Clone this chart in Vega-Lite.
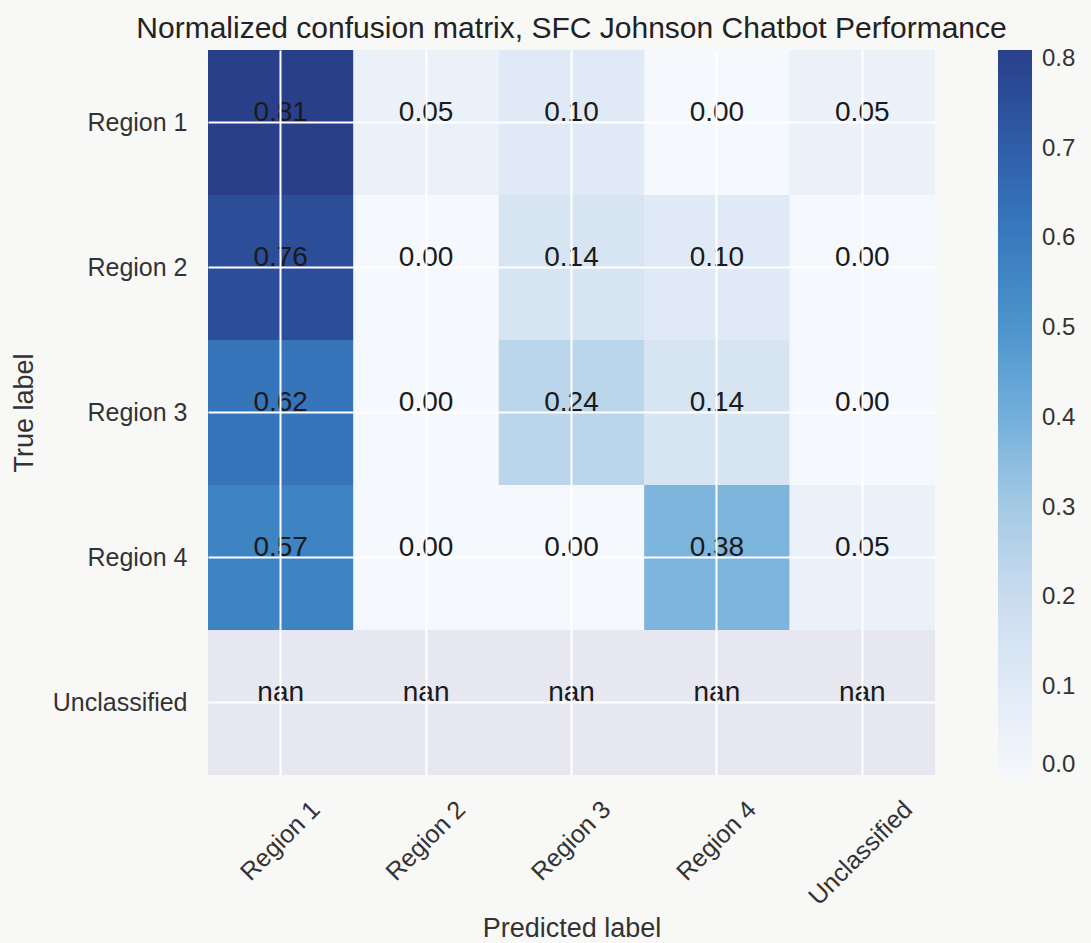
{
  "$schema": "https://vega.github.io/schema/vega-lite/v6.json",
  "width": 727,
  "height": 725,
  "autosize": {"type": "none"},
  "padding": {"left": 208, "top": 50, "right": 156, "bottom": 168},
  "background": "#f8f8f6",
  "view": {"fill": "#e7e7f1", "stroke": null},
  "title": {
    "text": "Normalized confusion matrix, SFC Johnson Chatbot Performance",
    "font": "Liberation Sans",
    "fontSize": 30,
    "fontWeight": "normal",
    "color": "#222222",
    "anchor": "middle",
    "baseline": "alphabetic",
    "offset": 12,
    "dy": 30
  },
  "data": {
    "values": [
      {"true": "Region 1", "pred": "Region 1", "value": 0.81, "label": "0.81"},
      {"true": "Region 1", "pred": "Region 2", "value": 0.05, "label": "0.05"},
      {"true": "Region 1", "pred": "Region 3", "value": 0.10, "label": "0.10"},
      {"true": "Region 1", "pred": "Region 4", "value": 0.00, "label": "0.00"},
      {"true": "Region 1", "pred": "Unclassified", "value": 0.05, "label": "0.05"},
      {"true": "Region 2", "pred": "Region 1", "value": 0.76, "label": "0.76"},
      {"true": "Region 2", "pred": "Region 2", "value": 0.00, "label": "0.00"},
      {"true": "Region 2", "pred": "Region 3", "value": 0.14, "label": "0.14"},
      {"true": "Region 2", "pred": "Region 4", "value": 0.10, "label": "0.10"},
      {"true": "Region 2", "pred": "Unclassified", "value": 0.00, "label": "0.00"},
      {"true": "Region 3", "pred": "Region 1", "value": 0.62, "label": "0.62"},
      {"true": "Region 3", "pred": "Region 2", "value": 0.00, "label": "0.00"},
      {"true": "Region 3", "pred": "Region 3", "value": 0.24, "label": "0.24"},
      {"true": "Region 3", "pred": "Region 4", "value": 0.14, "label": "0.14"},
      {"true": "Region 3", "pred": "Unclassified", "value": 0.00, "label": "0.00"},
      {"true": "Region 4", "pred": "Region 1", "value": 0.57, "label": "0.57"},
      {"true": "Region 4", "pred": "Region 2", "value": 0.00, "label": "0.00"},
      {"true": "Region 4", "pred": "Region 3", "value": 0.00, "label": "0.00"},
      {"true": "Region 4", "pred": "Region 4", "value": 0.38, "label": "0.38"},
      {"true": "Region 4", "pred": "Unclassified", "value": 0.05, "label": "0.05"},
      {"true": "Unclassified", "pred": "Region 1", "value": null, "label": "nan"},
      {"true": "Unclassified", "pred": "Region 2", "value": null, "label": "nan"},
      {"true": "Unclassified", "pred": "Region 3", "value": null, "label": "nan"},
      {"true": "Unclassified", "pred": "Region 4", "value": null, "label": "nan"},
      {"true": "Unclassified", "pred": "Unclassified", "value": null, "label": "nan"}
    ]
  },
  "encoding": {
    "x": {
      "field": "pred",
      "type": "nominal",
      "sort": ["Region 1", "Region 2", "Region 3", "Region 4", "Unclassified"],
      "scale": {"paddingInner": 0, "paddingOuter": 0},
      "axis": {
        "title": "Predicted label",
        "titleFont": "Liberation Sans",
        "titleFontSize": 27,
        "titleFontWeight": "normal",
        "titleColor": "#333333",
        "titlePadding": 6,
        "labelFont": "Liberation Sans",
        "labelFontSize": 25,
        "labelColor": "#333333",
        "labelAngle": -45,
        "labelAlign": "right",
        "labelBaseline": "middle",
        "labelPadding": 30,
        "labelOffset": {"condition": {"test": "datum.value === 'Unclassified'", "value": 46}, "value": 35},
        "ticks": false,
        "tickSize": 0,
        "domain": false,
        "grid": true,
        "gridColor": "#ffffff",
        "gridWidth": 2,
        "gridOpacity": 1,
        "tickBand": "center",
        "zindex": 1
      }
    },
    "y": {
      "field": "true",
      "type": "nominal",
      "sort": ["Region 1", "Region 2", "Region 3", "Region 4", "Unclassified"],
      "scale": {"paddingInner": 0, "paddingOuter": 0},
      "axis": {
        "title": "True label",
        "titleFont": "Liberation Sans",
        "titleFontSize": 27,
        "titleFontWeight": "normal",
        "titleColor": "#333333",
        "titlePadding": 14,
        "labelFont": "Liberation Sans",
        "labelFontSize": 25,
        "labelColor": "#333333",
        "labelAlign": "right",
        "labelBaseline": "middle",
        "labelPadding": 21,
        "ticks": false,
        "tickSize": 0,
        "domain": false,
        "grid": true,
        "gridColor": "#ffffff",
        "gridWidth": 2,
        "gridOpacity": 1,
        "tickBand": "center",
        "zindex": 1
      }
    }
  },
  "layer": [
    {
      "mark": {"type": "rect"},
      "encoding": {
        "color": {
          "field": "value",
          "type": "quantitative",
          "scale": {
            "domain": [0, 0.10125, 0.2025, 0.30375, 0.405, 0.50625, 0.6075, 0.70875, 0.81],
            "range": ["#f5f8fc", "#e0eaf6", "#c9dcef", "#a2c9e4", "#70aedb", "#4b93cb", "#3879bd", "#2f5ca6", "#293f8a"]
          },
          "legend": {
            "title": null,
            "orient": "right",
            "offset": 63,
            "direction": "vertical",
            "gradientLength": 727,
            "gradientThickness": 34,
            "gradientStrokeWidth": 0,
            "values": [0, 0.1, 0.2, 0.3, 0.4, 0.5, 0.6, 0.7, 0.8],
            "format": ".1f",
            "labelFont": "Liberation Sans",
            "labelFontSize": 24,
            "labelColor": "#333333",
            "labelOffset": 10,
            "labelOverlap": false,
            "padding": 0
          }
        }
      }
    },
    {
      "mark": {"type": "text", "font": "Liberation Sans", "fontSize": 28, "color": "#1a1a1a", "dy": -10},
      "encoding": {
        "text": {"field": "label", "type": "nominal"}
      }
    }
  ]
}
